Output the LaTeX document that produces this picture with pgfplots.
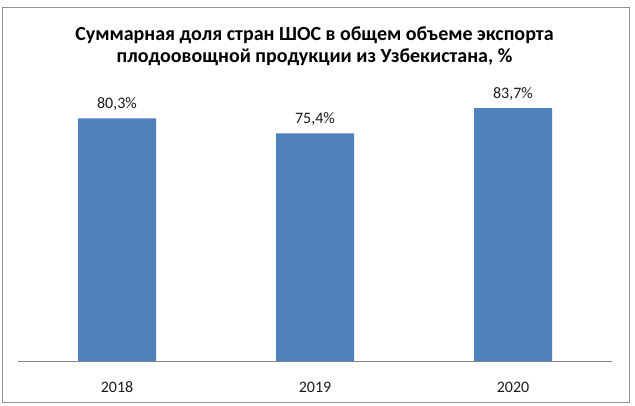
\documentclass[border=0pt]{standalone}
\usepackage{fontspec}
\setmainfont{Carlito}
\usepackage{pgfplots}
\pgfplotsset{compat=1.18}
\definecolor{barblue}{HTML}{4F81BD}
\definecolor{axgray}{HTML}{868686}
\definecolor{txt}{HTML}{1A1A1A}
\begin{document}
\begin{tikzpicture}[x=1pt,y=1pt]
\useasboundingbox (0,0) rectangle (635,405);
\draw[color=axgray!90, line width=1pt] (2.5,3) rectangle (629.5,397.7);
\node[anchor=base, font=\fontsize{20}{23}\selectfont\bfseries, text=black, inner sep=0pt] at (314.5,364.3) {Суммарная доля стран ШОС в общем объеме экспорта};
\node[anchor=base, font=\fontsize{20}{23}\selectfont\bfseries, text=black, inner sep=0pt] at (314.5,342.7) {плодоовощной продукции из Узбекистана, \%};
\begin{axis}[
  at={(18pt,44pt)}, anchor=south west,
  scale only axis, width=594pt, height=302pt,
  xmin=-0.5, xmax=2.5, ymin=0, ymax=100,
  enlargelimits=false,
  axis x line*=bottom, axis y line=none,
  x axis line style={color=axgray, line width=1pt},
  xtick={0,1,2}, xticklabels={2018,2019,2020},
  xtick style={draw=none},
  /pgf/number format/assume math mode=true,
  xticklabel style={anchor=base, yshift=-27.3pt, inner sep=0pt, font=\fontsize{16}{19}\selectfont, text=txt},
  ybar, bar width=78pt,
  point meta=explicit symbolic,
  nodes near coords={\pgfplotspointmeta},
  nodes near coords style={anchor=base, yshift=10pt, inner sep=0pt, font=\fontsize{16}{19}\selectfont, text=txt},
]
\addplot[fill=barblue, draw=none] coordinates {(0,80.3) [80,3\%] (1,75.4) [75,4\%] (2,83.7) [83,7\%]};
\end{axis}
\end{tikzpicture}
\end{document}
